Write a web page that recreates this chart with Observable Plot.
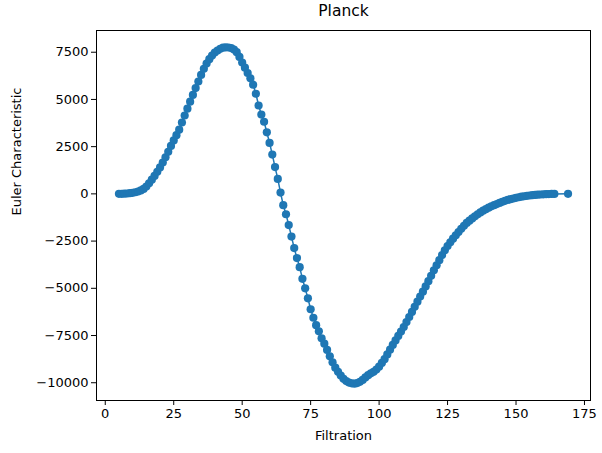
<!DOCTYPE html>
<html>
<head>
<meta charset="utf-8">
<script src="https://cdn.jsdelivr.net/npm/d3@7"></script>
<script src="https://cdn.jsdelivr.net/npm/@observablehq/plot@0.6"></script>
<style>
  html, body { margin: 0; padding: 0; background: #fff; }
  #chart { width: 602px; height: 453px; }
</style>
</head>
<body>
<div id="chart"></div>
<script>
const title = "Planck";
const xLabel = "Filtration";
const yLabel = "Euler Characteristic";
const xTicks = [0, 25, 50, 75, 100, 125, 150, 175];
const yTicks = [-10000, -7500, -5000, -2500, 0, 2500, 5000, 7500];

const filtration = [
  5, 6, 7, 8, 9, 10, 11, 12, 13, 14,
  15, 16, 17, 18, 19, 20, 21, 22, 23, 24,
  25, 26, 27, 28, 29, 30, 31, 32, 33, 34,
  35, 36, 37, 38, 39, 40, 41, 42, 43, 44,
  45, 46, 47, 48, 49, 50, 51, 52, 53, 54,
  55, 56, 57, 58, 59, 60, 61, 62, 63, 64,
  65, 66, 67, 68, 69, 70, 71, 72, 73, 74,
  75, 76, 77, 78, 79, 80, 81, 82, 83, 84,
  85, 86, 87, 88, 89, 90, 91, 92, 93, 94,
  95, 96, 97, 98, 99, 100, 101, 102, 103, 104,
  105, 106, 107, 108, 109, 110, 111, 112, 113, 114,
  115, 116, 117, 118, 119, 120, 121, 122, 123, 124,
  125, 126, 127, 128, 129, 130, 131, 132, 133, 134,
  135, 136, 137, 138, 139, 140, 141, 142, 143, 144,
  145, 146, 147, 148, 149, 150, 151, 152, 153, 154,
  155, 156, 157, 158, 159, 160, 161, 162, 163, 164,
  169
];

const euler = [
  0, 5, 10, 20, 35, 55, 85, 125, 185, 260,
  390, 560, 750, 950, 1170, 1400, 1660, 1940, 2230, 2540,
  2830, 3110, 3400, 3780, 4150, 4510, 4880, 5240, 5600, 5950,
  6300, 6620, 6900, 7130, 7320, 7480, 7590, 7680, 7740, 7760,
  7750, 7720, 7640, 7500, 7250, 6950, 6680, 6400, 6120, 5780,
  5300, 4680, 4200, 3820, 3260, 2700, 2080, 1420, 790, 70,
  -600, -1080, -1650, -2260, -2870, -3400, -3880, -4500, -5000, -5530,
  -6110, -6560, -6950, -7280, -7650, -7930, -8260, -8600, -8920, -9200,
  -9420, -9620, -9790, -9910, -9990, -10030, -10050, -10020, -9950, -9850,
  -9720, -9600, -9500, -9420, -9300, -9150, -8950, -8750, -8500, -8250,
  -8000, -7760, -7520, -7290, -7050, -6790, -6520, -6250, -5980, -5710,
  -5440, -5180, -4900, -4620, -4340, -4050, -3780, -3510, -3240, -2990,
  -2760, -2560, -2370, -2190, -2020, -1850, -1690, -1540, -1420, -1300,
  -1190, -1080, -980, -890, -810, -730, -660, -600, -540, -480,
  -420, -370, -320, -280, -245, -210, -180, -150, -125, -105,
  -85, -70, -55, -42, -32, -22, -15, -10, -5, -2,
  0
];

const data = filtration.map((f, i) => ({f, v: euler[i]}));
const color = "#1f77b4";
const fmt = d => String(d).replace("-", "\u2212");

const chart = Plot.plot({
  width: 602,
  height: 453,
  marginLeft: 96,
  marginRight: 12,
  marginTop: 30,
  marginBottom: 53,
  style: {fontFamily: "DejaVu Sans", fontSize: "13px", color: "black", background: "white", overflow: "visible"},
  x: {domain: [-3.2, 177.2], ticks: xTicks, tickFormat: fmt, tickSize: 5, tickPadding: 3, label: null},
  y: {domain: [-10940, 8650], ticks: yTicks, tickFormat: fmt, tickSize: 5, tickPadding: 3, label: null},
  marks: [
    Plot.line(data, {x: "f", y: "v", stroke: color, strokeWidth: 1.5}),
    Plot.dot(data, {x: "f", y: "v", r: 4.1, fill: color, stroke: "none"}),
    Plot.frame({stroke: "black", strokeWidth: 1}),
    Plot.text([title], {frameAnchor: "top", lineAnchor: "middle", dy: -19, fontSize: 15.5, fill: "black"}),
    Plot.text([xLabel], {frameAnchor: "bottom", lineAnchor: "middle", dy: 35, fontSize: 13, fill: "black"}),
    Plot.text([yLabel], {frameAnchor: "left", lineAnchor: "middle", dx: -80, rotate: -90, fontSize: 13, fill: "black"})
  ]
});
document.getElementById("chart").appendChild(chart);
</script>
</body>
</html>
